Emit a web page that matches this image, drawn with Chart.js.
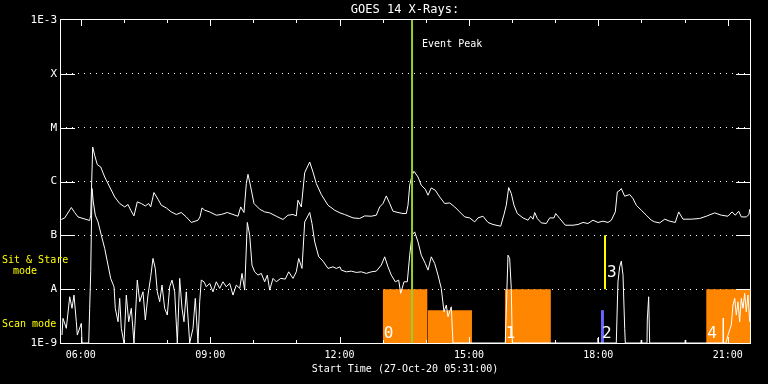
<!DOCTYPE html>
<html><head><meta charset="utf-8">
<script src="https://cdn.jsdelivr.net/npm/chart.js@4.4.1/dist/chart.umd.min.js"></script>
<style>html,body{margin:0;padding:0;background:#000;overflow:hidden}#wrap{width:768px;height:384px;position:relative}</style>
</head><body><div id="wrap"><canvas id="c" width="768" height="384"></canvas></div>
<script>
const titleText = 'GOES 14 X-Rays:';
const xTitle = 'Start Time (27-Oct-20 05:31:00)';
const xStart = 5 + 31/60;
const xEnd = 21 + 31/60;
const xTickHours = [6,7,8,9,10,11,12,13,14,15,16,17,18,19,20,21];
const yTickValues = [-9,-8,-7,-6,-5,-4,-3];
const yTickLabels = ['1E-9','A','B','C','M','X','1E-3'];

// long channel (1-8 A), hours of day / log10 flux
const longTimes = [5.547,5.626,5.779,5.857,5.934,6.050,6.205,6.229,6.275,6.321,6.381,6.460,6.553,6.669,6.785,6.901,7.017,7.093,7.156,7.232,7.309,7.402,7.495,7.573,7.620,7.696,7.789,7.866,7.981,8.097,8.213,8.329,8.445,8.561,8.716,8.763,8.809,8.872,8.988,9.141,9.257,9.396,9.528,9.644,9.707,9.783,9.837,9.876,9.939,10.015,10.147,10.263,10.379,10.532,10.687,10.803,10.919,10.996,11.035,11.112,11.191,11.307,11.383,11.460,11.576,11.731,11.886,12.009,12.118,12.311,12.466,12.582,12.735,12.851,12.930,13.006,13.083,13.162,13.238,13.354,13.470,13.547,13.586,13.626,13.679,13.725,13.818,13.894,13.987,14.050,14.126,14.219,14.321,14.437,14.553,14.669,14.785,14.901,15.017,15.133,15.209,15.325,15.441,15.557,15.735,15.812,15.865,15.921,15.981,16.044,16.121,16.253,16.369,16.431,16.485,16.524,16.584,16.677,16.793,16.872,16.972,17.011,17.104,17.234,17.412,17.528,17.644,17.760,17.876,17.992,18.108,18.224,18.301,18.393,18.440,18.502,18.532,18.611,18.727,18.803,18.880,18.996,19.112,19.228,19.307,19.423,19.539,19.655,19.784,19.863,19.963,20.155,20.350,20.503,20.698,20.851,21.006,21.099,21.176,21.254,21.315,21.431,21.493,21.510];
const longFlux = [-6.706,-6.676,-6.483,-6.576,-6.658,-6.687,-6.724,-6.626,-5.359,-5.513,-5.686,-5.730,-5.916,-6.101,-6.287,-6.409,-6.472,-6.428,-6.533,-6.639,-6.379,-6.409,-6.454,-6.409,-6.472,-6.205,-6.329,-6.441,-6.491,-6.565,-6.613,-6.576,-6.658,-6.761,-6.719,-6.658,-6.491,-6.533,-6.565,-6.626,-6.613,-6.576,-6.613,-6.645,-6.472,-6.576,-6.038,-5.866,-6.101,-6.409,-6.515,-6.565,-6.583,-6.645,-6.706,-6.626,-6.613,-6.639,-6.348,-6.472,-5.834,-5.638,-5.823,-6.038,-6.242,-6.441,-6.533,-6.583,-6.613,-6.676,-6.687,-6.639,-6.645,-6.626,-6.472,-6.409,-6.268,-6.409,-6.552,-6.576,-6.595,-6.595,-6.441,-6.070,-5.884,-5.810,-5.916,-6.070,-6.144,-6.255,-6.120,-6.162,-6.287,-6.409,-6.398,-6.472,-6.565,-6.658,-6.676,-6.750,-6.676,-6.645,-6.761,-6.799,-6.830,-6.613,-6.441,-6.112,-6.224,-6.441,-6.595,-6.676,-6.719,-6.645,-6.700,-6.576,-6.687,-6.769,-6.780,-6.676,-6.676,-6.595,-6.687,-6.812,-6.812,-6.799,-6.761,-6.780,-6.719,-6.761,-6.737,-6.761,-6.719,-6.565,-6.194,-6.162,-6.131,-6.274,-6.242,-6.316,-6.441,-6.533,-6.626,-6.719,-6.750,-6.769,-6.700,-6.737,-6.761,-6.565,-6.700,-6.700,-6.687,-6.645,-6.583,-6.626,-6.645,-6.565,-6.626,-6.552,-6.658,-6.658,-6.613,-6.515];

// short channel (0.5-4 A), hours of day / log10 flux
const shortTimes = [5.563,5.586,5.663,5.742,5.795,5.841,5.895,5.918,6.011,6.027,6.182,6.205,6.229,6.259,6.289,6.335,6.398,6.474,6.553,6.630,6.692,6.769,6.799,6.862,6.901,6.938,7.001,7.054,7.110,7.170,7.232,7.309,7.365,7.441,7.495,7.557,7.620,7.673,7.726,7.773,7.828,7.882,7.944,8.005,8.060,8.114,8.176,8.237,8.292,8.346,8.392,8.445,8.524,8.601,8.654,8.716,8.756,8.793,8.856,8.909,8.988,9.064,9.141,9.220,9.296,9.373,9.452,9.528,9.605,9.684,9.737,9.799,9.860,9.915,9.969,10.031,10.108,10.184,10.263,10.324,10.379,10.456,10.532,10.634,10.741,10.820,10.919,10.996,11.052,11.128,11.191,11.307,11.360,11.423,11.516,11.616,11.731,11.847,11.923,12.009,12.040,12.156,12.271,12.387,12.503,12.619,12.735,12.851,12.967,13.046,13.122,13.199,13.292,13.370,13.417,13.494,13.570,13.626,13.679,13.741,13.818,13.894,13.987,14.050,14.126,14.205,14.282,14.358,14.421,14.474,14.514,14.590,14.629,15.842,15.905,15.944,15.981,16.005,16.995,17.003,17.011,17.984,17.992,18.000,18.416,18.455,18.495,18.532,18.572,18.611,18.625,18.988,18.996,19.004,19.128,19.135,19.167,19.190,20.009,20.017,20.025,20.890,20.896,20.902,20.960,21.006,21.083,21.122,21.162,21.199,21.238,21.277,21.315,21.354,21.393,21.431,21.470,21.510];
const shortFlux = [-8.852,-8.542,-8.727,-8.141,-8.356,-8.110,-8.605,-8.852,-8.635,-9,-9,-8.356,-7.678,-6.131,-6.379,-6.626,-6.750,-6.997,-7.244,-7.553,-7.800,-7.956,-8.356,-8.605,-8.171,-8.727,-9,-8.110,-8.605,-8.356,-9,-7.832,-8.234,-8.049,-8.573,-8.110,-7.770,-7.429,-7.615,-8.049,-8.234,-7.924,-8.356,-8.481,-7.956,-7.832,-8.049,-9,-7.800,-8.356,-8.605,-8.049,-9,-8.727,-8.171,-9,-8.234,-7.832,-7.863,-7.956,-7.893,-8.049,-7.863,-7.986,-7.863,-7.956,-7.893,-8.110,-7.924,-7.986,-7.707,-8.017,-6.761,-6.997,-7.553,-7.678,-7.739,-7.707,-7.863,-7.739,-8.017,-7.800,-7.863,-7.800,-7.813,-7.678,-7.800,-7.678,-7.429,-7.615,-6.750,-6.576,-6.780,-7.121,-7.399,-7.479,-7.615,-7.585,-7.615,-7.585,-7.646,-7.678,-7.665,-7.689,-7.678,-7.707,-7.678,-7.665,-7.553,-7.399,-7.585,-7.739,-7.863,-7.832,-8.078,-7.863,-7.863,-7.368,-6.997,-6.936,-7.121,-7.368,-7.522,-7.646,-7.399,-7.522,-7.739,-7.986,-8.420,-8.295,-8.512,-8.327,-9,-9,-7.368,-7.429,-7.986,-9,-9,-8.944,-9,-9,-8.907,-9,-9,-7.863,-7.585,-7.479,-7.739,-8.727,-9,-9,-8.944,-9,-9,-8.573,-8.141,-9,-9,-8.944,-9,-9,-8.536,-9,-9,-8.852,-8.666,-8.295,-8.171,-8.481,-8.234,-8.605,-8.171,-8.356,-8.078,-8.420,-8.110,-8.605];

const eventPeakTime = 13.68;
const eventLabel = 'Event Peak';

// observing-mode intervals
const modeLabels = ['0','','1','2','3','4'];
const modeKind   = ['scan','scan','scan','scanB','stare','scan'];
const modeStart  = [13.00,14.04,15.83,18.06,18.13,20.50];
const modeEnd    = [14.04,15.07,16.90,18.13,18.18,21.52];
const modeLow    = [-9,-9,-9,-9,-8,-9];
const modeHigh   = [-8,-8.39,-8,-8.39,-7,-8];
const sideLabels = ['Sit & Stare','mode','Scan mode'];

const FONT = 'DejaVu Sans Mono';
const kindColor = {scan:'#ff8600', scanB:'#6666ff', stare:'#ffff00'};

const toXY = (t, v) => t.map((x, i) => ({x, y: v[i]}));

const datasets = [];
datasets.push({data:[{x:eventPeakTime,y:-9},{x:eventPeakTime,y:-3}], borderColor:'#9acd32', borderWidth:2, pointRadius:0, order:0, fill:false});
datasets.push({data:toXY(longTimes,longFlux), borderColor:'#ffffff', borderWidth:1, pointRadius:0, tension:0, order:1, fill:false});
datasets.push({data:toXY(shortTimes,shortFlux), borderColor:'#ffffff', borderWidth:1, pointRadius:0, tension:0, order:1, fill:false});
modeStart.forEach((s, i) => {
  datasets.push({data:[{x:s,y:modeHigh[i]},{x:modeEnd[i],y:modeHigh[i]}], borderColor:'rgba(0,0,0,0)', borderWidth:0,
    backgroundColor:kindColor[modeKind[i]], fill:{value:modeLow[i]}, pointRadius:0, order:2});
});

const overlay = {
  id:'overlay',
  afterDraw(chart){
    const {ctx, chartArea:a, scales:{x, y}} = chart;
    ctx.save();
    ctx.strokeStyle = '#fff'; ctx.lineWidth = 1;
    ctx.strokeRect(a.left+0.5, a.top-0.5, a.right-a.left, a.bottom-a.top+1);
    yTickValues.forEach(v => {
      if (v === -9 || v === -3) return;
      const py = Math.round(y.getPixelForValue(v)) + 0.5;
      ctx.beginPath();
      ctx.moveTo(a.left, py); ctx.lineTo(a.left+15, py);
      ctx.moveTo(a.right-14, py); ctx.lineTo(a.right, py);
      ctx.stroke();
    });
    xTickHours.forEach(h => {
      const px = Math.round(x.getPixelForValue(h)) + 0.5;
      const len = h % 3 === 0 ? 6 : 3;
      ctx.beginPath();
      ctx.moveTo(px, a.top); ctx.lineTo(px, a.top+len);
      ctx.moveTo(px, a.bottom); ctx.lineTo(px, a.bottom-len);
      ctx.stroke();
    });
    ctx.fillStyle = '#fff';
    ctx.font = '10px "' + FONT + '"';
    ctx.textBaseline = 'alphabetic'; ctx.textAlign = 'left';
    ctx.fillText(eventLabel, x.getPixelForValue(eventPeakTime) + 10, a.top + 27);
    ctx.font = '16px "' + FONT + '"';
    modeLabels.forEach((lab, i) => {
      if (!lab) return;
      const px = x.getPixelForValue(modeKind[i] === 'stare' ? modeEnd[i] : modeStart[i]) + (modeKind[i] === 'stare' ? 1 : 1);
      const py = y.getPixelForValue(modeLow[i]) - (modeLow[i] === -9 ? 5 : 12);
      ctx.fillText(lab, px, py);
    });
    ctx.fillStyle = '#ffff00';
    ctx.font = '10px "' + FONT + '"';
    ctx.fillText(sideLabels[0], 2, y.getPixelForValue(-7.5) + 0.5);
    ctx.fillText(sideLabels[1], 13, y.getPixelForValue(-7.5) + 12);
    ctx.fillText(sideLabels[2], 2, y.getPixelForValue(-8.7));
    ctx.restore();
  }
};

const bg = {id:'bg', beforeDraw(chart){const c=chart.ctx; c.save(); c.fillStyle='#000'; c.fillRect(0,0,chart.width,chart.height); c.restore();}};

new Chart(document.getElementById('c'), {
  type:'line',
  data:{datasets},
  plugins:[bg, overlay],
  options:{
    responsive:false, animation:false, devicePixelRatio:1,
    layout:{padding:{left:0,right:18,top:0,bottom:0}},
    plugins:{
      legend:{display:false}, tooltip:{enabled:false},
      title:{display:true, text:titleText, color:'#fff', fullSize:false, font:{family:FONT,size:12,weight:'normal'}, padding:{top:3,bottom:2.6}}
    },
    scales:{
      x:{type:'linear', position:'bottom', min:xStart, max:xEnd,
        afterBuildTicks:s=>{s.ticks = xTickHours.map(v=>({value:v}));},
        afterFit:s=>{s.height = 41;},
        grid:{display:false, drawTicks:false}, border:{display:false},
        ticks:{color:'#fff', font:{family:FONT,size:10}, padding:6, autoSkip:false, maxRotation:0,
          callback:v => v % 3 === 0 ? String(v).padStart(2,'0') + ':00' : ''},
        title:{display:true, text:xTitle, color:'#fff', font:{family:FONT,size:10}, padding:{top:0,bottom:9}}
      },
      y:{type:'linear', min:-9, max:-3,
        afterBuildTicks:s=>{s.ticks = yTickValues.map(v=>({value:v}));},
        afterFit:s=>{s.width = 60;},
        grid:{color:c => (c.tick && (c.tick.value === -9 || c.tick.value === -3)) ? 'rgba(0,0,0,0)' : '#ffffff', lineWidth:1, drawTicks:false, borderDash:[1,5]},
        border:{display:false, dash:[1,5]},
        ticks:{color:'#fff', font:{family:FONT,size:11}, padding:3,
          callback:v => yTickLabels[yTickValues.indexOf(v)]}
      }
    }
  }
});
</script></body></html>
